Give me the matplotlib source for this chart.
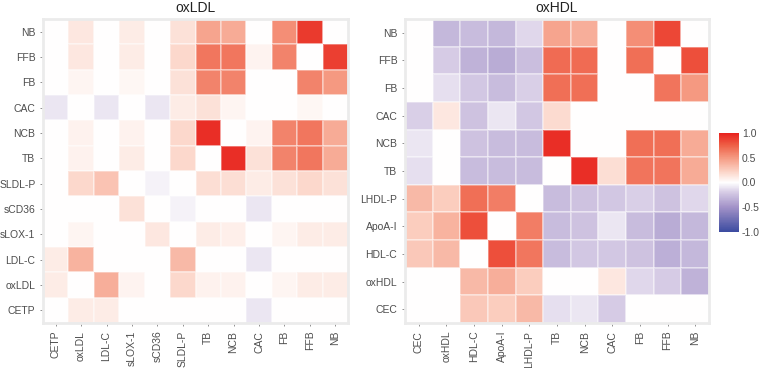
import numpy as np
import matplotlib
matplotlib.use("Agg")
import matplotlib.pyplot as plt
from matplotlib.colors import LinearSegmentedColormap, Normalize
from matplotlib.cm import ScalarMappable

plt.rcParams['font.family'] = ['Liberation Sans', 'DejaVu Sans']

# oxLDL panel: rows listed top to bottom, columns left to right
ldl_rows = ["NB", "FFB", "FB", "CAC", "NCB", "TB", "SLDL-P", "sCD36", "sLOX-1", "LDL-C", "oxLDL", "CETP"]
ldl_cols = ["CETP", "oxLDL", "LDL-C", "sLOX-1", "sCD36", "SLDL-P", "TB", "NCB", "CAC", "FB", "FFB", "NB"]
ldl_vals = [
    [0, 0.12, 0, 0.10, 0, 0.15, 0.45, 0.42, 0, 0.55, 0.90, 0],
    [0, 0.12, 0, 0.10, 0, 0.20, 0.65, 0.65, 0.06, 0.60, 0, 0.88],
    [0, 0.05, 0, 0.04, 0, 0.15, 0.60, 0.60, 0, 0, 0.60, 0.50],
    [-0.10, 0, -0.10, 0, -0.10, 0.10, 0.15, 0.05, 0, 0, 0.04, 0],
    [0, 0.07, 0, 0.07, 0, 0.20, 0.95, 0, 0.06, 0.60, 0.65, 0.42],
    [0, 0.07, 0, 0.10, 0, 0.20, 0, 0.95, 0.15, 0.60, 0.65, 0.42],
    [0, 0.20, 0.30, 0, -0.05, 0, 0.17, 0.17, 0.10, 0.15, 0.20, 0.15],
    [0, 0, 0, 0.15, 0, -0.05, 0, 0, -0.10, 0, 0, 0],
    [0, 0.05, 0, 0, 0.12, 0, 0.10, 0.08, 0, 0.05, 0.10, 0.10],
    [0.10, 0.38, 0, 0, 0, 0.35, 0, 0, -0.10, 0, 0, 0],
    [0.10, 0, 0.40, 0.06, 0, 0.20, 0.07, 0.07, 0, 0.05, 0.10, 0.10],
    [0, 0.10, 0.10, 0, 0, 0, 0, 0, -0.10, 0, 0, 0],
]

# oxHDL panel
hdl_rows = ["NB", "FFB", "FB", "CAC", "NCB", "TB", "LHDL-P", "ApoA-I", "HDL-C", "oxHDL", "CEC"]
hdl_cols = ["CEC", "oxHDL", "HDL-C", "ApoA-I", "LHDL-P", "TB", "NCB", "CAC", "FB", "FFB", "NB"]
hdl_vals = [
    [0, -0.30, -0.28, -0.30, -0.15, 0.45, 0.40, 0, 0.55, 0.85, 0],
    [0, -0.20, -0.33, -0.36, -0.27, 0.70, 0.70, 0, 0.68, 0, 0.82],
    [0, -0.12, -0.22, -0.28, -0.18, 0.68, 0.68, 0, 0, 0.66, 0.50],
    [-0.18, 0.12, -0.25, -0.10, -0.22, 0.18, 0, 0, 0, 0, 0],
    [-0.10, 0, -0.25, -0.28, -0.28, 0.95, 0, 0, 0.68, 0.68, 0.42],
    [-0.12, 0, -0.28, -0.28, -0.28, 0, 0.95, 0.17, 0.66, 0.66, 0.42],
    [0.35, 0.25, 0.68, 0.62, 0, -0.28, -0.25, -0.22, -0.18, -0.25, -0.15],
    [0.25, 0.38, 0.82, 0, 0.62, -0.28, -0.25, -0.10, -0.28, -0.36, -0.30],
    [0.28, 0.35, 0, 0.82, 0.65, -0.28, -0.22, -0.22, -0.25, -0.35, -0.30],
    [0, 0, 0.35, 0.40, 0.25, 0, 0, 0.12, -0.15, -0.20, -0.33],
    [0, 0, 0.28, 0.25, 0.35, -0.12, -0.10, -0.20, 0, 0, 0],
]

cbar_ticks = [1.0, 0.5, 0.0, -0.5, -1.0]
cbar_labels = ["1.0", "0.5", "0.0", "-0.5", "-1.0"]

cmap = LinearSegmentedColormap.from_list("bwr_custom", [
    (0.0, "#3B4BA0"),
    (0.25, "#A292C8"),
    (0.40, "#D6CBE5"),
    (0.5, "#FFFFFF"),
    (0.62, "#FBD0C2"),
    (0.75, "#F59A82"),
    (0.88, "#EE5E45"),
    (1.0, "#E8221E"),
])
norm = Normalize(-1, 1)

fig = plt.figure(figsize=(7.62, 3.68), dpi=100)
tick_col = "#4D4D4D"


def heat(ax, vals, rows, cols, title):
    m = np.array(vals)
    ax.pcolormesh(m, cmap=cmap, norm=norm, edgecolors=(1, 1, 1, 0.35), linewidth=0.3)
    ax.set_xlim(0, len(cols))
    ax.set_ylim(len(rows), 0)
    ax.set_xticks(np.arange(len(cols)) + 0.5)
    ax.set_xticklabels(cols, rotation=90)
    ax.set_yticks(np.arange(len(rows)) + 0.5)
    ax.set_yticklabels(rows)
    ax.tick_params(length=2.5, width=0.6, color="#7F7F7F", labelsize=7.5,
                   labelcolor=tick_col, pad=3)
    for s in ax.spines.values():
        s.set_color("#EBEBEB")
        s.set_linewidth(2)
    ax.set_title(title, fontsize=10, color="#222222", pad=5)


ax1 = fig.add_axes([43 / 762, 1 - 323 / 368, 305 / 762, 304 / 368])
heat(ax1, ldl_vals, ldl_rows, ldl_cols, "oxLDL")
ax2 = fig.add_axes([405 / 762, 1 - 323 / 368, 304 / 762, 304 / 368])
heat(ax2, hdl_vals, hdl_rows, hdl_cols, "oxHDL")

cax = fig.add_axes([719 / 762, 1 - 232 / 368, 20 / 762, 99 / 368])
cb = fig.colorbar(ScalarMappable(norm=norm, cmap=cmap), cax=cax)
cb.outline.set_visible(False)
cb.set_ticks(cbar_ticks)
cb.set_ticklabels(cbar_labels)
cax.tick_params(length=0, labelsize=7.5, labelcolor=tick_col, pad=2)

fig.savefig("out.png", dpi=100)
